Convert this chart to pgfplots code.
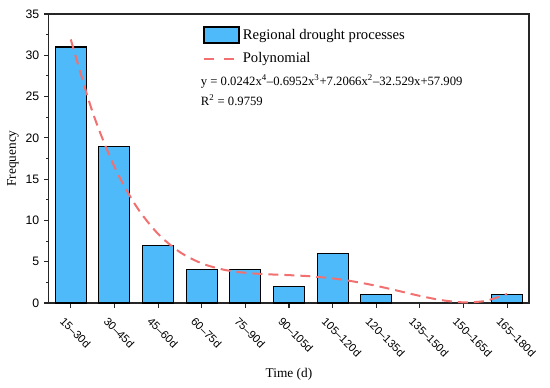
\documentclass[border=0pt]{standalone}
\usepackage{fontspec}
\setmainfont{Liberation Serif}
\setsansfont{Liberation Sans}
\usepackage{pgfplots}
\pgfplotsset{compat=1.18}
\definecolor{barblue}{RGB}{79,186,250}
\definecolor{fitred}{RGB}{242,112,112}
\begin{document}
\begin{tikzpicture}
\begin{axis}[
  scale only axis, width=360pt, height=216.75pt,
  xmin=0.5, xmax=11.5, ymin=0, ymax=35,
  xtick={1,...,11},
  xticklabels={15--30d,30--45d,45--60d,60--75d,75--90d,90--105d,105--120d,120--135d,135--150d,150--165d,165--180d},
  ytick={0,5,...,35}, minor y tick num=1,
  tick pos=left, tick align=outside,
  major tick length=3.75pt, minor tick length=2.2pt,
  axis line style={line width=0.8pt, black!85},
  every tick/.style={line width=0.8pt, black!85},
  yticklabel style={font=\sffamily\fontsize{9.2}{11}\selectfont},
  xticklabel style={font=\sffamily\fontsize{8.4}{10}\selectfont, rotate=-45, anchor=north west, xshift=-2pt, yshift=-4pt},
  /pgf/number format/assume math mode=true,
  xlabel={Time (d)}, ylabel={Frequency},
  label style={font=\fontsize{10}{12}\selectfont},
  xlabel style={at={(axis description cs:0.5,-0.2595)}, anchor=base, inner sep=0pt},
  ylabel style={at={(axis description cs:-0.075,0.5)}, anchor=center, inner sep=0pt},
  clip=false,
  legend cell align=left,
  legend style={at={(axis cs:4.022,33.6)}, anchor=north west, draw=none, fill=none,
    font=\fontsize{11}{13}\selectfont, inner sep=0pt, row sep=4.5pt},
]
\addplot[ybar, bar width=0.71, fill=barblue, draw=black, line width=0.8pt,
  legend image code/.code={\draw[fill=barblue, draw=black, line width=1.3pt] (0pt,-6.2pt) rectangle (26.5pt,6.2pt);}]
  coordinates {(1,31) (2,19) (3,7) (4,4) (5,4) (6,2) (7,6) (8,1) (11,1)};
\addlegendentry{Regional drought processes}
\addplot[smooth, no marks, draw=fitred, line width=1.5pt, dash pattern=on 7.5pt off 4.5pt,
  legend image code/.code={\draw[draw=fitred, line width=1.5pt, dash pattern=on 7.5pt off 7.5pt] (0pt,0pt) -- (22.5pt,0pt);}]
  coordinates {(1,31.916) (1.5,23.107) (2,16.503) (2.5,11.711) (3,8.371) (3.5,6.163) (4,4.801) (4.5,4.036) (5,3.654) (5.5,3.480) (6,3.373) (6.5,3.229) (7,2.980) (7.5,2.586) (8,2.080) (8.5,1.475) (9,0.858) (9.5,0.343) (10,0.079) (10.5,0.254) (11,1.090)};
\addlegendentry{Polynomial}
\node[anchor=base west, inner sep=0pt, font=\fontsize{9.5}{12}\selectfont] at (axis cs:3.976,26.3)
  {y = 0.0242x\textsuperscript{4}--0.6952x\textsuperscript{3}+7.2066x\textsuperscript{2}--32.529x+57.909};
\node[anchor=base west, inner sep=0pt, font=\fontsize{9.5}{12}\selectfont] at (axis cs:3.976,23.9)
  {R\textsuperscript{2} = 0.9759};
\coordinate (BL) at (axis description cs:-0.102,-0.2907);
\coordinate (TR) at (axis description cs:1.0438,1.0484);
\end{axis}
\pgfresetboundingbox
\path (BL) rectangle (TR);
\end{tikzpicture}
\end{document}
